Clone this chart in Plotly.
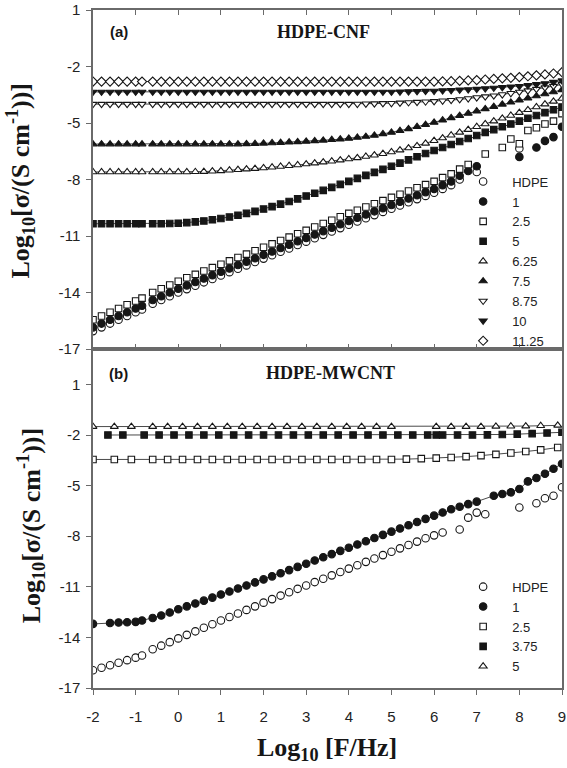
import plotly.graph_objects as go

# ---------------- data ----------------
# log10 frequency grid shared by the dense series
X_A = [-2.0, -1.8, -1.6, -1.4, -1.2, -1.0, -0.85,
       -0.6, -0.4, -0.2, 0.0, 0.2, 0.4, 0.6, 0.8, 1.0, 1.2, 1.4, 1.6, 1.8,
       2.0, 2.2, 2.4, 2.6, 2.8, 3.0, 3.2, 3.4, 3.6, 3.8, 4.0, 4.2, 4.4, 4.6,
       4.8, 5.0, 5.2, 5.4, 5.6, 5.8, 6.0, 6.2, 6.4, 6.6, 6.8, 7.0, 7.2, 7.4,
       7.6, 7.8, 8.0, 8.2, 8.4, 8.6, 8.8, 9.0]

# (a) HDPE-CNF
A_HDPE = [-16.05, -15.85, -15.65, -15.45, -15.25, -15.05, -14.9,
          -14.6, -14.4, -14.2, -14.0, -13.82, -13.64, -13.46, -13.28, -13.1, -12.92, -12.74, -12.56, -12.38,
          -12.2, -12.02, -11.84, -11.66, -11.48, -11.3, -11.12, -10.94, -10.76, -10.58, -10.4, -10.23, -10.06, -9.89,
          -9.72, -9.55, -9.38, -9.21, -9.04, -8.87, -8.7, -8.5, -8.3, -8.0, None, -7.6, None, None,
          None, None, -6.35, None, None, None, None, None]
A_1 = [-15.85, -15.65, -15.45, -15.25, -15.05, -14.85, -14.7,
       -14.4, -14.2, -14.0, -13.8, -13.62, -13.44, -13.26, -13.08, -12.9, -12.72, -12.54, -12.36, -12.18,
       -12.0, -11.82, -11.64, -11.46, -11.28, -11.1, -10.92, -10.74, -10.56, -10.38, -10.2, -10.03, -9.86, -9.69,
       -9.52, -9.35, -9.18, -9.01, -8.84, -8.67, -8.5, -8.3, -8.1, -7.8, -7.55, -7.3, None, None,
       None, None, -6.8, None, -6.3, -5.95, -5.75, -5.2]
A_2_5 = [-15.45, -15.25, -15.05, -14.85, -14.65, -14.45, -14.3,
         -14.0, -13.8, -13.6, -13.4, -13.22, -13.04, -12.86, -12.68, -12.5, -12.32, -12.14, -11.96, -11.78,
         -11.6, -11.42, -11.24, -11.06, -10.88, -10.7, -10.52, -10.34, -10.16, -9.98, -9.8, -9.63, -9.46, -9.29,
         -9.12, -8.95, -8.78, -8.61, -8.44, -8.27, -8.1, -7.9, -7.7, -7.45, -7.2, None, -6.65, None,
         -6.3, -5.85, -6.1, -5.4, -5.25, -5.05, -4.9, -4.5]
A_5 = [-10.35, -10.35, -10.35, -10.35, -10.35, -10.35, -10.35,
       -10.35, -10.35, -10.34, -10.32, -10.29, -10.25, -10.2, -10.14, -10.07, -9.99, -9.9, -9.8, -9.69,
       -9.57, -9.44, -9.31, -9.17, -9.03, -8.88, -8.73, -8.58, -8.42, -8.26, -8.1, -7.94, -7.78, -7.62,
       -7.46, -7.3, -7.13, -6.96, -6.79, -6.62, -6.46, -6.3, -6.14, -5.98, -5.82, -5.66, -5.5, -5.35,
       -5.2, -5.05, -4.9, -4.75, -4.6, -4.45, -4.3, -4.15]
A_6_25 = [-7.6, -7.6, -7.6, -7.6, -7.6, -7.6, -7.6,
          -7.6, -7.6, -7.6, -7.6, -7.6, -7.59, -7.58, -7.56, -7.54, -7.51, -7.48, -7.45, -7.42,
          -7.39, -7.35, -7.31, -7.27, -7.23, -7.18, -7.13, -7.08, -7.03, -6.97, -6.91, -6.85, -6.78, -6.71,
          -6.63, -6.54, -6.44, -6.33, -6.21, -6.08, -5.94, -5.8, -5.65, -5.5, -5.35, -5.2, -5.05, -4.9,
          -4.75, -4.6, -4.45, -4.3, -4.15, -4.0, -3.85, -3.7]
A_7_5 = [-6.12, -6.12, -6.12, -6.12, -6.12, -6.12, -6.12,
         -6.12, -6.12, -6.12, -6.12, -6.12, -6.12, -6.12, -6.12, -6.12, -6.12, -6.12, -6.11, -6.1,
         -6.08, -6.06, -6.04, -6.02, -6.0, -5.98, -5.95, -5.92, -5.89, -5.86, -5.82, -5.77, -5.72, -5.66,
         -5.58, -5.5, -5.41, -5.31, -5.2, -5.09, -4.97, -4.85, -4.73, -4.61, -4.49, -4.37, -4.25, -4.13,
         -4.01, -3.9, -3.79, -3.68, -3.57, -3.46, -3.35, -3.24]
A_8_75 = [-4.0, -4.0, -4.0, -4.0, -4.0, -4.0, -4.0,
          -4.0, -4.0, -4.0, -4.0, -4.0, -4.0, -4.0, -4.0, -4.0, -4.0, -4.0, -4.0, -4.0,
          -4.0, -4.0, -4.0, -4.0, -4.0, -4.0, -4.0, -4.0, -4.0, -4.0, -4.0, -3.99, -3.98, -3.97,
          -3.96, -3.95, -3.93, -3.91, -3.89, -3.87, -3.85, -3.82, -3.79, -3.75, -3.7, -3.65, -3.6, -3.55,
          -3.49, -3.42, -3.35, -3.28, -3.2, -3.12, -3.04, -2.95]
A_10 = [-3.35, -3.35, -3.35, -3.35, -3.35, -3.35, -3.35,
        -3.35, -3.35, -3.35, -3.35, -3.35, -3.35, -3.35, -3.35, -3.35, -3.35, -3.35, -3.35, -3.35,
        -3.35, -3.35, -3.35, -3.35, -3.35, -3.35, -3.35, -3.35, -3.35, -3.35, -3.35, -3.35, -3.35, -3.35,
        -3.35, -3.35, -3.34, -3.33, -3.32, -3.31, -3.3, -3.28, -3.26, -3.24, -3.22, -3.2, -3.17, -3.14,
        -3.11, -3.08, -3.05, -3.0, -2.95, -2.9, -2.83, -2.75]
A_11_25 = [-2.8, -2.8, -2.8, -2.8, -2.8, -2.8, -2.8,
           -2.8, -2.8, -2.8, -2.8, -2.8, -2.8, -2.8, -2.8, -2.8, -2.8, -2.8, -2.8, -2.8,
           -2.8, -2.8, -2.8, -2.8, -2.8, -2.8, -2.8, -2.8, -2.8, -2.8, -2.8, -2.8, -2.8, -2.8,
           -2.8, -2.8, -2.8, -2.8, -2.8, -2.8, -2.8, -2.79, -2.78, -2.76, -2.74, -2.72, -2.69, -2.66,
           -2.63, -2.6, -2.56, -2.52, -2.47, -2.42, -2.37, -2.3]

# (b) HDPE-MWCNT
X_B = X_A
B_HDPE = [-15.95, -15.8, -15.65, -15.5, -15.35, -15.2, -15.07,
          -14.7, -14.49, -14.28, -14.06, -13.85, -13.64, -13.43, -13.22, -13.0, -12.79, -12.58, -12.37, -12.16,
          -11.94, -11.73, -11.52, -11.32, -11.12, -10.92, -10.72, -10.52, -10.32, -10.12, -9.92, -9.72, -9.52, -9.32,
          -9.12, -8.92, -8.72, -8.52, -8.32, -8.12, -7.95, -7.78, None, -7.6, -6.9, -6.6, -6.7, None,
          None, None, -6.3, None, -6.05, -5.75, -5.6, -5.1]
B_1 = [-13.2, None, -13.15, -13.12, -13.1, -13.08, -13.0,
       -12.85, -12.7, -12.52, -12.33, -12.16, -11.99, -11.82, -11.64, -11.46, -11.28, -11.1, -10.92, -10.74,
       -10.56, -10.38, -10.2, -10.01, -9.82, -9.63, -9.44, -9.25, -9.06, -8.87, -8.68, -8.49, -8.3, -8.11,
       -7.92, -7.73, -7.54, -7.35, -7.16, -6.97, -6.78, -6.59, -6.4, -6.25, -6.1, -5.95, None, -5.6,
       -5.5, -5.4, -5.2, -4.75, -4.55, -4.3, -4.0, -3.7]
X_B_SPARSE = [-2.0, -1.5, -1.1, -0.6, -0.25, 0.1, 0.45, 0.8, 1.15, 1.5, 1.85, 2.2, 2.55,
              2.9, 3.25, 3.6, 3.95, 4.3, 4.65, 5.0, 5.35, 5.7, 6.05, 6.4, 6.75, 7.1,
              7.45, 7.8, 8.15, 8.5, 8.9]
B_2_5 = [-3.45, -3.45, -3.45, -3.45, -3.45, -3.45, -3.45, -3.45, -3.45, -3.45, -3.45, -3.45, -3.45,
         -3.45, -3.45, -3.45, -3.45, -3.45, -3.45, -3.45, -3.43, -3.4, -3.37, -3.33, -3.28, -3.22,
         -3.15, -3.07, -2.98, -2.88, -2.74]
B_5 = [-1.5, -1.5, -1.5, -1.5, -1.5, -1.5, -1.5, -1.5, -1.5, -1.5, -1.5, -1.5, -1.5,
       -1.5, -1.5, -1.5, -1.5, -1.5, -1.5, -1.5, None, None, -1.5, -1.5, -1.5, -1.5,
       -1.49, -1.48, -1.47, -1.45, -1.43]
X_B_SHIFT = [-1.65, -1.3, -0.8, -0.45, -0.1, 0.25, 0.6, 0.95, 1.3, 1.65, 2.0, 2.35, 2.7,
             3.05, 3.4, 3.75, 4.1, 4.45, 4.8, 5.15, 5.5, 5.85, 6.05, 6.2, 6.55, 6.9,
             7.25, 7.6, 7.95, 8.3, 8.65, 9.0]
B_3_75 = [-2.0, -2.0, -2.0, -2.0, -2.0, -2.0, -2.0, -2.0, -2.0, -2.0, -2.0, -2.0, -2.0,
          -2.0, -2.0, -2.0, -2.0, -2.0, -2.0, -2.0, -2.0, -2.0, -2.0, -2.0, -2.0, -2.0,
          -1.99, -1.97, -1.95, -1.92, -1.88, -1.84]

Y_TICKS = [1, -2, -5, -8, -11, -14, -17]
Y_TICK_TEXT = ["1", "-2", "-5", "-8", "-11", "-14", "-17"]
X_TICKS = [-2, -1, 0, 1, 2, 3, 4, 5, 6, 7, 8, 9]
X_TICK_TEXT = ["-2", "-1", "0", "1", "2", "3", "4", "5", "6", "7", "8", "9"]

# ---------------- styling ----------------
INK = "#161616"
AXIS = "#6a6a6a"
LINE = "#4a4a4a"
SANS = "Liberation Sans, Arial, sans-serif"
SERIF = "Liberation Serif, Times New Roman, serif"

fig = go.Figure()


def add_series(x, y, name, symbol, filled, with_line, xa, ya, legend, size=7):
    if with_line:
        fig.add_trace(go.Scatter(x=x, y=y, mode="lines", connectgaps=True,
                                 line=dict(color=LINE, width=1), showlegend=False,
                                 hoverinfo="skip", xaxis=xa, yaxis=ya))
    fig.add_trace(go.Scatter(
        x=x, y=y, mode="markers", name=name, legend=legend, xaxis=xa, yaxis=ya,
        marker=dict(symbol=symbol, size=size, color=INK if filled else "white",
                    line=dict(color=INK, width=1.1))))


# panel (a)
add_series(X_A, A_HDPE, "HDPE", "circle", False, False, "x", "y", "legend", 7.5)
add_series(X_A, A_1, "1", "circle", True, False, "x", "y", "legend", 7.5)
add_series(X_A, A_2_5, "2.5", "square", False, False, "x", "y", "legend", 6.5)
add_series(X_A, A_5, "5", "square", True, True, "x", "y", "legend", 6.5)
add_series(X_A, A_6_25, "6.25", "triangle-up", False, True, "x", "y", "legend", 7)
add_series(X_A, A_7_5, "7.5", "triangle-up", True, True, "x", "y", "legend", 7)
add_series(X_A, A_8_75, "8.75", "triangle-down", False, True, "x", "y", "legend", 7)
add_series(X_A, A_10, "10", "triangle-down", True, True, "x", "y", "legend", 7)
add_series(X_A, A_11_25, "11.25", "diamond", False, True, "x", "y", "legend", 7)

# panel (b)
add_series(X_B, B_HDPE, "HDPE", "circle", False, False, "x2", "y2", "legend2", 7.5)
add_series(X_B, B_1, "1", "circle", True, True, "x2", "y2", "legend2", 7.5)
add_series(X_B_SPARSE, B_2_5, "2.5", "square", False, True, "x2", "y2", "legend2", 6.5)
add_series(X_B_SHIFT, B_3_75, "3.75", "square", True, True, "x2", "y2", "legend2", 6.5)
add_series(X_B_SPARSE, B_5, "5", "triangle-up", False, True, "x2", "y2", "legend2", 7)

tickfont = dict(family=SANS, size=15, color="#222222")
common_x = dict(range=[-2, 9], tickvals=X_TICKS, ticklen=5, tickwidth=1.2, tickcolor=AXIS,
                showline=True, linecolor=AXIS, linewidth=1.5, showgrid=False, zeroline=False)
common_y = dict(tickvals=Y_TICKS, ticktext=Y_TICK_TEXT, ticklen=5, tickwidth=1.2, tickcolor=AXIS,
                showline=True, linecolor=AXIS, linewidth=1.5, showgrid=False, zeroline=False,
                tickfont=tickfont, ticklabelstandoff=3)
right_y = dict(tickvals=Y_TICKS, ticks="inside", ticklen=5, tickwidth=1.2, tickcolor=AXIS,
               showticklabels=False, showline=False, showgrid=False, zeroline=False, side="right")

legend_common = dict(xanchor="left", yanchor="top", bgcolor="rgba(0,0,0,0)",
                     font=dict(family=SANS, size=13, color="#222222"), itemwidth=48,
                     tracegroupgap=0)

fig.update_layout(
    width=567, height=768,
    margin=dict(l=93, r=1, t=10, b=80),
    paper_bgcolor="white", plot_bgcolor="white",
    xaxis=dict(domain=[0, 1], anchor="y", ticks="inside", mirror="allticks",
               showticklabels=False, **common_x),
    yaxis=dict(domain=[0.5, 1], anchor="x", range=[-17, 1], ticks="outside", mirror=True, **common_y),
    yaxis3=dict(overlaying="y", anchor="x", range=[-17, 1], **right_y),
    xaxis2=dict(domain=[0, 1], anchor="y2", ticks="outside", mirror=True, ticktext=X_TICK_TEXT,
                tickfont=tickfont, ticklabelstandoff=9, ticklabeloverflow="allow", **common_x),
    yaxis2=dict(domain=[0, 0.5], anchor="x2", range=[-17, 3.1], ticks="outside", mirror=True, **common_y),
    yaxis4=dict(overlaying="y2", anchor="x2", range=[-17, 3.1], **right_y),
    legend=dict(x=0.77, y=0.769, **legend_common),
    legend2=dict(x=0.77, y=0.1715, **legend_common),
    showlegend=True,
)

ytitle = "<b>Log<sub>10</sub>[σ/(S cm<sup>-1</sup>))]</b>"
annotations = [
    dict(text="<b>(a)</b>", x=0.055, y=0.9676, font=dict(family=SANS, size=15, color=INK)),
    dict(text="<b>HDPE-CNF</b>", x=0.4905, y=0.9676, font=dict(family=SERIF, size=18, color=INK)),
    dict(text="<b>(b)</b>", x=0.055, y=0.4646, font=dict(family=SANS, size=15, color=INK)),
    dict(text="<b>HDPE-MWCNT</b>", x=0.507, y=0.4646, font=dict(family=SERIF, size=18, color=INK)),
    dict(text=ytitle, x=-0.155, y=0.749, textangle=-90, font=dict(family=SERIF, size=26, color=INK)),
    dict(text=ytitle, x=-0.132, y=0.240, textangle=-90, font=dict(family=SERIF, size=26, color=INK)),
    dict(text="<b>Log<sub>10</sub> [F/Hz]</b>", x=0.4989, y=-0.09, font=dict(family=SERIF, size=26, color=INK)),
]
for a in annotations:
    fig.add_annotation(xref="paper", yref="paper", showarrow=False, xanchor="center",
                       yanchor="middle", **a)

fig.write_html("out.html")
